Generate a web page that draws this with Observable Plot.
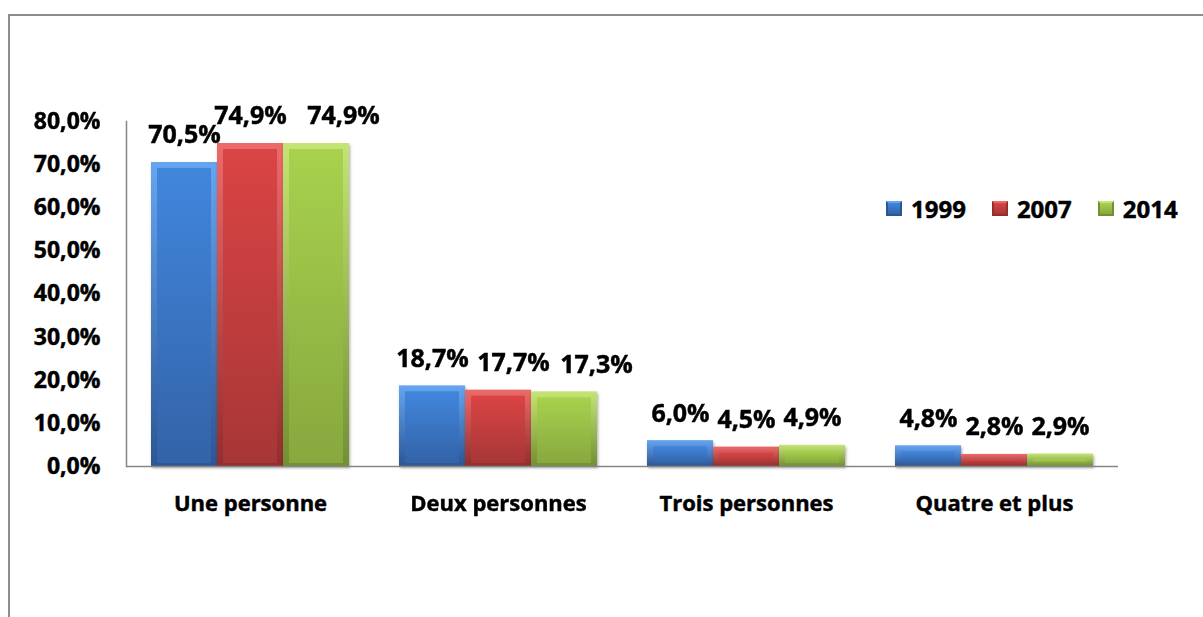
<!DOCTYPE html>
<html>
<head>
<meta charset="utf-8">
<script src="https://cdn.jsdelivr.net/npm/d3@7"></script>
<script src="https://cdn.jsdelivr.net/npm/@observablehq/plot@0.6"></script>
<style>
  html, body { margin: 0; padding: 0; background: #fff; }
  #wrap { position: relative; width: 1203px; height: 617px; overflow: hidden; font-family: "Open Sans", sans-serif; }
  #border { position: absolute; left: 8px; top: 14px; width: 1300px; height: 700px; border-top: 2px solid #8c8c8c; border-left: 2px solid #8c8c8c; box-sizing: border-box; }
  #chart { position: absolute; left: 0; top: 0; }
  #chart svg text { paint-order: stroke; stroke: #000; stroke-width: 0.45px; }
  #legend { position: absolute; left: 886px; top: 192px; display: flex; align-items: center; font-weight: bold; font-size: 24px; color: #000; -webkit-text-stroke: 0.45px #000; }
  .item { display: flex; align-items: center; margin-right: 26px; }
  .sw { width: 16px; height: 15px; margin-right: 9px; box-sizing: border-box; -webkit-text-stroke: 0; }
</style>
</head>
<body>
<div id="wrap">
  <div id="border"></div>
  <div id="chart"></div>
  <div id="legend"></div>
</div>
<script>
const categories = ["Une personne", "Deux personnes", "Trois personnes", "Quatre et plus"];
const years = ["1999", "2007", "2014"];
const values1999 = [0.705, 0.187, 0.060, 0.048];
const values2007 = [0.749, 0.177, 0.045, 0.028];
const values2014 = [0.749, 0.173, 0.049, 0.029];
const yTicks = [0, 0.1, 0.2, 0.3, 0.4, 0.5, 0.6, 0.7, 0.8];

// styling: [bevel light, body top, body bottom, edge dark]
const palette = {
  "1999": ["#66a5f0", "#4186dc", "#3363a8", "#2d5694"],
  "2007": ["#ec6a6a", "#da4444", "#a83636", "#922e2e"],
  "2014": ["#c4e574", "#a8d14d", "#87a83e", "#738f34"]
};
// manual label nudges as in the original (category, year, horizontal shift)
const labelNudges = [["Une personne", "2014", 27], ["Deux personnes", "2007", 15], ["Deux personnes", "2014", 32]];

const seriesValues = {"1999": values1999, "2007": values2007, "2014": values2014};
const rows = categories.flatMap((c, i) => years.map(y => ({category: c, year: y, value: seriesValues[y][i]})));
const fmt = d => (d * 100).toFixed(1).replace(".", ",") + "%";

const marks = [];
for (const y of years) {
  const data = rows.filter(d => d.year === y);
  marks.push(Plot.barY(data, {fx: "category", x: "year", y: "value", fill: `url(#outer${y})`}));
  marks.push(Plot.barY(data, {fx: "category", x: "year", y: "value", fill: `url(#inner${y})`,
    insetTop: 6, insetLeft: 6, insetRight: 6, insetBottom: 3}));
}

const isNudged = d => labelNudges.some(([c, y]) => c === d.category && y === d.year);
const labelOpts = {fx: "category", x: "year", y: "value", text: d => fmt(d.value),
  dy: -27, fontSize: 25, fontWeight: "bold", fill: "#000"};
const labelMarks = [Plot.text(rows.filter(d => !isNudged(d)), labelOpts)];
for (const [c, y, shift] of labelNudges) {
  labelMarks.push(Plot.text(rows.filter(d => d.category === c && d.year === y), {...labelOpts, dx: shift}));
}

const plot = Plot.plot({
  width: 1203,
  height: 617,
  marginLeft: 125,
  marginRight: 85,
  marginTop: 121,
  marginBottom: 151,
  style: {fontFamily: "'Open Sans', sans-serif", fontWeight: "bold", fontSize: "23px", color: "#000", background: "transparent"},
  fx: {domain: categories, padding: 0, label: null},
  x: {domain: years, paddingInner: 0, paddingOuter: 0.36, axis: null},
  y: {domain: [0, 0.8], label: null},
  marks: [
    ...marks,
    Plot.ruleY([0], {stroke: "#868686", strokeWidth: 1.5}),
    Plot.frame({anchor: "left", stroke: "#868686", strokeWidth: 1.5, facetAnchor: "left"}),
    ...labelMarks,
    Plot.axisY({ticks: yTicks, tickFormat: fmt, tickSize: 0, tickPadding: 26, fontSize: 23, fontWeight: "bold", label: null}),
    Plot.axisFx({anchor: "bottom", tickSize: 0, tickPadding: 29, fontSize: 22, fontWeight: "bold", label: null})
  ]
});

document.getElementById("chart").appendChild(plot);

// gradients
const svg = d3.select(plot);
const defs = svg.insert("defs", ":first-child");
for (const y of years) {
  const [light, top, bottom, dark] = palette[y];
  const go = defs.append("linearGradient").attr("id", `outer${y}`).attr("x1", 0).attr("y1", 0).attr("x2", 0).attr("y2", 1);
  go.append("stop").attr("offset", "0%").attr("stop-color", light);
  go.append("stop").attr("offset", "100%").attr("stop-color", dark);
  const gi = defs.append("linearGradient").attr("id", `inner${y}`).attr("x1", 0).attr("y1", 0).attr("x2", 0).attr("y2", 1);
  gi.append("stop").attr("offset", "0%").attr("stop-color", top);
  gi.append("stop").attr("offset", "100%").attr("stop-color", bottom);
}
const barGroups = plot.querySelectorAll('g[aria-label="bar"]');
barGroups.forEach((g, i) => { if (i % 2 === 0) g.style.filter = "drop-shadow(1px 2px 1.5px rgba(0,0,0,0.35))"; });

// legend
const legend = d3.select("#legend");
for (const y of years) {
  const [light, top, bottom, dark] = palette[y];
  const item = legend.append("div").attr("class", "item");
  item.append("div").attr("class", "sw")
    .style("background", `linear-gradient(${top}, ${bottom})`)
    .style("border", `2px solid ${dark}`)
    .style("border-top-color", light);
  item.append("span").text(y);
}
</script>
</body>
</html>
